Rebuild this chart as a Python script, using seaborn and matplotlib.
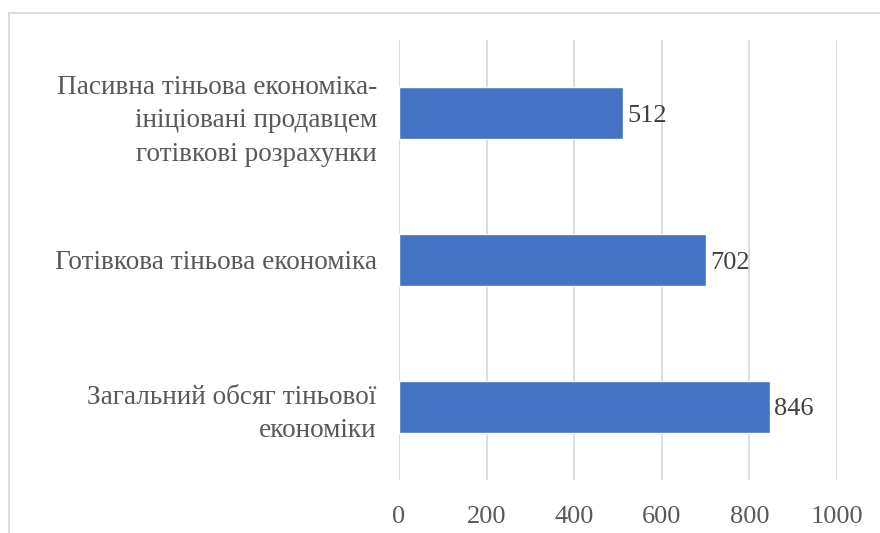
import pandas as pd
import matplotlib.pyplot as plt
import seaborn as sns
from matplotlib.patches import Rectangle

categories = ["Пасивна тіньова економіка-\nініціовані продавцем\nготівкові розрахунки",
              "Готівкова тіньова економіка",
              "Загальний обсяг тіньової\nекономіки"]
values = [512, 702, 846]
xticks = [0, 200, 400, 600, 800, 1000]

df = pd.DataFrame({"cat": categories, "val": values})

sns.set_style("white")
plt.rcParams["font.family"] = ["Liberation Serif", "DejaVu Serif"]

fig = plt.figure(figsize=(8.8, 5.33), dpi=100)
ax = fig.add_axes([0.4534, 0.0994, 0.4977, 0.8256])

sns.barplot(data=df, x="val", y="cat", orient="h", color="#4472C4",
            saturation=1, width=0.355, ax=ax)

ax.set_xlim(0, 1000)
ax.set_xticks(xticks)
ax.set_xticklabels([str(t) for t in xticks])
ax.xaxis.grid(True, color="#D9D9D9", linewidth=1.3)
ax.set_axisbelow(True)
for s in ax.spines.values():
    s.set_visible(False)
ax.tick_params(axis="x", length=0, pad=19, labelsize=19, labelcolor="#595959")
ax.tick_params(axis="y", length=0, pad=16, labelsize=19.6, labelcolor="#595959")
ax.set_xlabel("")
ax.set_ylabel("")
for lbl in ax.get_yticklabels():
    lbl.set_horizontalalignment("right")
    lbl.set_multialignment("right")
    lbl.set_linespacing(1.45)

for i, v in enumerate(values):
    ax.annotate(str(v), (v, i), xytext=(3, -2), textcoords="offset points",
                va="center", ha="left", fontsize=19, color="#404040")

fig.patches.append(Rectangle((9 / 880, -0.2), 1.5, 1.2 - 13 / 533,
                             transform=fig.transFigure, fill=False,
                             edgecolor="#D9D9D9", linewidth=1.3))

fig.savefig("out.png", dpi=100)
